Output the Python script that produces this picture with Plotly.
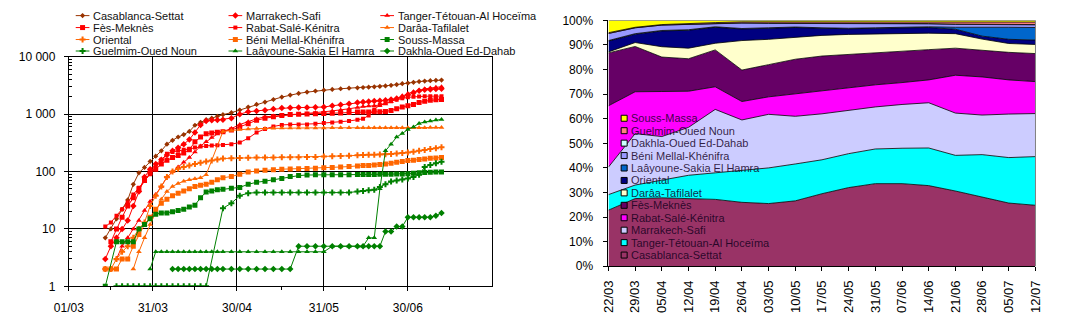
import plotly.graph_objects as go

W, H = 1065, 323

# ---------------- LEFT CHART DATA (cumulative cases, log scale) ----------------
DATES = ["2020-03-14","2020-03-16","2020-03-18","2020-03-20","2020-03-22","2020-03-24","2020-03-26",
         "2020-03-28","2020-03-30","2020-04-01","2020-04-03","2020-04-05","2020-04-07","2020-04-09",
         "2020-04-11","2020-04-13","2020-04-15","2020-04-17","2020-04-19","2020-04-21","2020-04-23",
         "2020-04-25","2020-04-28","2020-05-01","2020-05-04","2020-05-07","2020-05-10","2020-05-13",
         "2020-05-16","2020-05-19","2020-05-22","2020-05-25","2020-05-28","2020-05-31","2020-06-03",
         "2020-06-06","2020-06-09","2020-06-12","2020-06-14","2020-06-16","2020-06-18","2020-06-20",
         "2020-06-22","2020-06-24","2020-06-26","2020-06-28","2020-06-30","2020-07-02","2020-07-04",
         "2020-07-06","2020-07-08","2020-07-10","2020-07-12"]

CASABLANCA = [7,10,15,22,32,60,95,118,150,185,230,300,350,400,440,500,640,720,800,850,920,980,1060,1180,
              1330,1480,1620,1800,1980,2150,2300,2420,2530,2620,2700,2770,2830,2880,2910,2950,2990,3040,
              3100,3180,3270,3400,3480,3580,3700,3770,3830,3880,3920]
MARRAKECH = [3,5,7,10,14,25,45,80,110,135,160,195,230,260,300,360,480,650,760,780,790,800,850,1000,1100,
             1140,1175,1230,1280,1295,1300,1305,1315,1330,1400,1460,1520,1590,1630,1660,1690,1710,1740,
             1800,1880,1980,2150,2350,2550,2650,2700,2740,2770]
TANGER = [None,None,3,5,7,10,14,21,30,40,55,80,100,120,145,175,220,280,330,390,450,500,560,660,740,830,
          900,930,950,970,995,1020,1060,1100,1140,1180,1240,1310,1360,1380,1400,1430,1500,1650,1850,2100,
          2280,2450,2620,2750,2850,2930,3000]
FES = [None,6,10,16,25,35,50,70,95,110,135,157,175,190,210,240,330,400,455,470,485,495,530,600,680,780,
       850,900,950,985,1000,1005,1015,1025,1035,1050,1065,1085,1093,1095,1096,1097,1110,1160,1240,1330,
       1400,1480,1600,1680,1740,1780,1800]
RABAT = [11,13,17,22,29,40,52,70,90,120,160,205,220,230,240,250,262,272,280,284,288,291,300,320,380,480,
         550,610,650,658,660,662,680,700,715,735,760,800,830,950,1200,1450,1580,1680,1790,1900,1960,2000,
         2040,2050,2055,2058,2060]
DARAA = [None,None,None,None,None,2,4,7,12,20,33,45,55,62,68,72,75,78,88,None,None,500,520,540,550,560,
         565,570,572,574,575,575,576,576,577,577,578,578,578,579,579,579,580,580,580,580,580,581,581,582,
         583,584,585]
ORIENTAL = [2,2,3,4,5,7,10,13,25,38,55,80,100,112,120,128,135,142,150,156,162,168,171,173,174,175,175,
            176,177,178,178,179,180,182,184,186,188,192,194,196,197,198,200,203,206,210,215,222,230,238,
            246,255,265]
BENI_MELLAL = [2,2,2,3,3,5,8,12,16,22,28,33,38,42,46,50,55,58,60,65,72,78,82,90,98,102,105,108,110,111,
               112,113,114,116,118,120,122,125,127,128,130,133,135,140,145,150,155,158,162,166,170,173,176]
SOUSS = [1,None,6,6,6,6,10,12,15,18,19,19,20,21,22,24,26,35,44,46,48,49,51,53,60,65,68,72,76,82,85,87,
         88,88,88,88,88,89,89,89,89,90,90,90,91,91,92,93,95,96,97,98,98]
GUELMIM = [None,None,1,1,1,1,1,1,1,1,1,1,1,1,1,1,1,1,1,None,None,23,28,38,42,43,43,43,43,43,43,43,43,
           43,43,43,43,45,46,47,48,54,60,67,70,73,76,80,88,120,130,140,148]
LAAYOUNE = [None,None,None,None,None,None,None,None,2,4,4,4,4,4,4,4,4,4,4,4,4,4,4,4,4,4,4,4,4,4,4,4,4,
            4,5,5,5,5,5,7,7,50,230,300,400,460,540,600,690,730,760,790,810]
DAKHLA = [None,None,None,None,None,None,None,None,None,None,None,None,2,2,2,2,2,2,2,2,2,2,2,2,2,2,2,2,
          2,2,5,5,5,5,5,5,5,5,5,5,5,5,9,9,11,11,16,16,16,16,16,17,19]

LEFT_TICK_DATES = ["2020-03-01", "2020-03-31", "2020-04-30", "2020-05-31", "2020-06-30"]
LEFT_TICK_TEXT = ["01/03", "31/03", "30/04", "31/05", "30/06"]
LEFT_MINOR_DATES = ["2020-03-16", "2020-04-15", "2020-05-16", "2020-06-15", "2020-07-15"]
Y_TICKS = [1, 10, 100, 1000, 10000]
Y_TICK_TEXT = ["1", "10", "100", "1 000", "10 000"]

# ---------------- RIGHT CHART DATA (weekly shares, %) ----------------
WEEKS = ["22/03","29/03","05/04","12/04","19/04","26/04","03/05","10/05","17/05","24/05","31/05",
         "07/06","14/06","21/06","28/06","05/07","12/07"]
SH_CASABLANCA = [22.8,27.5,27.8,27.5,27.2,26.0,25.5,26.6,29.5,32.0,33.6,33.6,32.8,30.6,28.0,25.7,24.8]
SH_TANGER     = [6.3,5.5,7.2,9.5,10.8,13.0,14.5,15.0,13.8,13.8,14.1,14.4,15.3,14.5,17.4,18.5,19.8]
SH_MARRAKECH  = [11.2,20.9,17.7,19.5,25.8,20.5,21.8,19.4,18.7,17.7,17.1,17.8,18.4,17.2,16.1,17.7,17.5]
SH_RABAT      = [24.9,17.0,18.3,14.7,9.2,7.5,7.1,9.1,9.5,9.0,9.0,8.9,9.3,15.4,15.5,13.9,13.0]
SH_FES        = [21.5,18.4,14.0,13.2,15.0,12.8,13.1,14.1,14.0,13.7,13.2,12.7,12.3,11.0,10.8,11.2,11.4]
SH_DARAA      = [0.4,1.6,4.2,4.3,2.7,12.0,10.3,8.9,8.4,8.1,7.5,7.4,6.7,5.9,4.6,3.6,3.7]
SH_ORIENTAL   = [4.4,3.4,6.4,7.3,6.5,4.7,4.5,4.0,2.9,2.3,2.3,2.3,2.3,1.8,1.2,1.7,1.8]
SH_LAAYOUNE   = [0.2,0.2,0.2,0.2,0.2,0.2,0.2,0.2,0.2,0.2,0.2,0.2,0.3,0.8,3.7,4.9,5.1]
SH_BENI       = [2.9,2.4,2.2,2.2,1.4,2.2,1.8,1.5,1.9,2.1,1.9,1.6,1.2,1.2,1.1,1.1,1.1]
SH_DAKHLA     = [0.0,0.0,0.0,0.1,0.1,0.1,0.1,0.1,0.1,0.1,0.1,0.1,0.1,0.1,0.1,0.1,0.1]
SH_GUELMIM    = [0.3,0.2,0.2,0.3,0.2,0.4,0.5,0.5,0.5,0.5,0.5,0.5,0.7,0.7,0.7,0.9,1.0]
SH_SOUSS      = [5.0,2.8,1.7,1.2,0.9,0.6,0.6,0.6,0.5,0.5,0.5,0.5,0.6,0.8,0.8,0.7,0.7]
PCT_TICKS = [0, 10, 20, 30, 40, 50, 60, 70, 80, 90, 100]
PCT_TEXT = ["0%", "10%", "20%", "30%", "40%", "50%", "60%", "70%", "80%", "90%", "100%"]

FONT = "Liberation Sans, Arial, sans-serif"

LINE_SERIES = [
    ("Casablanca-Settat", CASABLANCA, "#993300", "diamond", 4),
    ("Marrakech-Safi", MARRAKECH, "#FF0000", "diamond", 5),
    ("Tanger-Tétouan-Al Hoceïma", TANGER, "#FF0000", "triangle-up", 5),
    ("Fès-Meknès", FES, "#FF0000", "square", 5),
    ("Rabat-Salé-Kénitra", RABAT, "#FF0000", "square", 4),
    ("Darâa-Tafilalet", DARAA, "#FF6600", "triangle-up", 5),
    ("Oriental", ORIENTAL, "#FF6600", "cross", 5),
    ("Béni Mellal-Khénifra", BENI_MELLAL, "#FF6600", "square", 5),
    ("Souss-Massa", SOUSS, "#008000", "square", 5),
    ("Guelmim-Oued Noun", GUELMIM, "#008000", "cross", 5),
    ("Laâyoune-Sakia El Hamra", LAAYOUNE, "#008000", "triangle-up", 5),
    ("Dakhla-Oued Ed-Dahab", DAKHLA, "#008000", "diamond", 5),
]

AREA_SERIES = [
    ("Casablanca-Settat", SH_CASABLANCA, "#993366"),
    ("Tanger-Tétouan-Al Hoceïma", SH_TANGER, "#00FFFF"),
    ("Marrakech-Safi", SH_MARRAKECH, "#CCCCFF"),
    ("Rabat-Salé-Kénitra", SH_RABAT, "#FF00FF"),
    ("Fès-Meknès", SH_FES, "#660066"),
    ("Darâa-Tafilalet", SH_DARAA, "#FFFFCC"),
    ("Oriental", SH_ORIENTAL, "#000080"),
    ("Laâyoune-Sakia El Hamra", SH_LAAYOUNE, "#0066CC"),
    ("Béni Mellal-Khénifra", SH_BENI, "#9999FF"),
    ("Dakhla-Oued Ed-Dahab", SH_DAKHLA, "#CCFFFF"),
    ("Guelmim-Oued Noun", SH_GUELMIM, "#FF8080"),
    ("Souss-Massa", SH_SOUSS, "#FFFF00"),
]

fig = go.Figure()

# left: log line chart
for name, vals, col, sym, size in LINE_SERIES:
    fig.add_trace(go.Scatter(
        x=DATES, y=vals, name=name, mode="lines+markers", connectgaps=True,
        line=dict(color=col, width=1), marker=dict(symbol=sym, size=size, color=col, line=dict(width=0)),
        xaxis="x", yaxis="y", showlegend=False))

# right: 100% stacked area
for k, (name, vals, col) in enumerate(AREA_SERIES):
    kw = dict(groupnorm="percent") if k == 0 else {}
    fig.add_trace(go.Scatter(
        x=WEEKS, y=vals, name=name, mode="lines", stackgroup="share", fillcolor=col,
        line=dict(color="black", width=0.8), xaxis="x2", yaxis="y2", showlegend=False, **kw))

# ----- manual legends (drawn in a pixel-coordinate overlay axis) -----
annotations = []
L_COL_X = [62, 218, 373]
L_ROW_Y = [9, 21.5, 34, 46]
for k, (name, vals, col, sym, size) in enumerate(LINE_SERIES):
    x0 = L_COL_X[k % 3]
    y0 = L_ROW_Y[k // 3]
    fig.add_trace(go.Scatter(x=[x0, x0 + 14], y=[y0, y0], mode="lines",
                             line=dict(color=col, width=1), xaxis="x3", yaxis="y3",
                             showlegend=False, hoverinfo="skip"))
    fig.add_trace(go.Scatter(x=[x0 + 7], y=[y0], mode="markers",
                             marker=dict(symbol=sym, size=size, color=col), xaxis="x3", yaxis="y3",
                             showlegend=False, hoverinfo="skip"))
    annotations.append(dict(x=x0 + 16, y=y0, xref="x3", yref="y3", text=name, showarrow=False,
                            xanchor="left", yanchor="middle", font=dict(family=FONT, size=11, color="#111111")))

R_BOX_X = 622
R_ROW0 = 116.3
R_STEP = 13.0
for j, (name, vals, col) in enumerate(reversed(AREA_SERIES)):
    yy = R_ROW0 + j * R_STEP
    fig.add_trace(go.Scatter(x=[R_BOX_X], y=[yy], mode="markers",
                             marker=dict(symbol="square", size=6, color=col, line=dict(color="black", width=1)),
                             xaxis="x3", yaxis="y3", showlegend=False, hoverinfo="skip"))
    annotations.append(dict(x=R_BOX_X + 5, y=yy, xref="x3", yref="y3", text=name, showarrow=False,
                            xanchor="left", yanchor="middle",
                            font=dict(family=FONT, size=11, color="rgba(20,0,30,0.85)")))

tickfont = dict(family=FONT, size=12, color="black")

fig.update_layout(
    width=W, height=H, margin=dict(l=0, r=0, t=0, b=0),
    paper_bgcolor="white", plot_bgcolor="rgba(0,0,0,0)",
    showlegend=False, annotations=annotations,
    xaxis=dict(domain=[55 / W, 487 / W], anchor="y", type="date",
               range=["2020-03-01", "2020-07-30"],
               tickvals=LEFT_TICK_DATES, ticktext=LEFT_TICK_TEXT, tickfont=tickfont,
               showgrid=True, gridcolor="black", gridwidth=1, zeroline=False,
               showline=True, linecolor="black", linewidth=1, mirror=True,
               ticks="outside", ticklen=4, tickcolor="black", ticklabelstandoff=6,
               minor=dict(tickvals=LEFT_MINOR_DATES, ticks="outside", ticklen=3,
                          tickcolor="black", showgrid=False)),
    yaxis=dict(domain=[1 - 292 / H, 1 - 52 / H], anchor="x", type="log", range=[0, 4],
               tickvals=Y_TICKS, ticktext=Y_TICK_TEXT, tickfont=tickfont,
               showgrid=True, gridcolor="black", gridwidth=1, zeroline=False,
               showline=True, linecolor="black", linewidth=1, mirror=True,
               ticks="outside", ticklen=4, tickcolor="black", ticklabelstandoff=6,
               minor=dict(dtick="D1", ticks="inside", ticklen=3, tickcolor="black", showgrid=False)),
    xaxis2=dict(domain=[606 / W, 1042 / W], anchor="y2", type="category", range=[0, 16],
                tickangle=-90, tickfont=dict(family=FONT, size=13, color="black"),
                showgrid=False, zeroline=False, showline=True, linecolor="black", linewidth=1,
                ticks="outside", ticklen=4, tickcolor="black", ticklabelstandoff=4),
    yaxis2=dict(domain=[1 - 271 / H, 1 - 14 / H], anchor="x2", range=[0, 100],
                tickvals=PCT_TICKS, ticktext=PCT_TEXT, tickfont=tickfont,
                showgrid=False, zeroline=False, showline=True, linecolor="black", linewidth=1,
                ticks="outside", ticklen=4, tickcolor="black", ticklabelstandoff=8),
    xaxis3=dict(domain=[0, 1], anchor="y3", range=[0, W], visible=False, fixedrange=True),
    yaxis3=dict(domain=[0, 1], anchor="x3", range=[H, 0], visible=False, fixedrange=True),
    shapes=[dict(type="line", xref="paper", yref="paper", x0=1042 / W, x1=1042 / W,
                 y0=1 - 271 / H, y1=1 - 14 / H, line=dict(color="#808080", width=1))],
)

fig.write_html("out.html")
